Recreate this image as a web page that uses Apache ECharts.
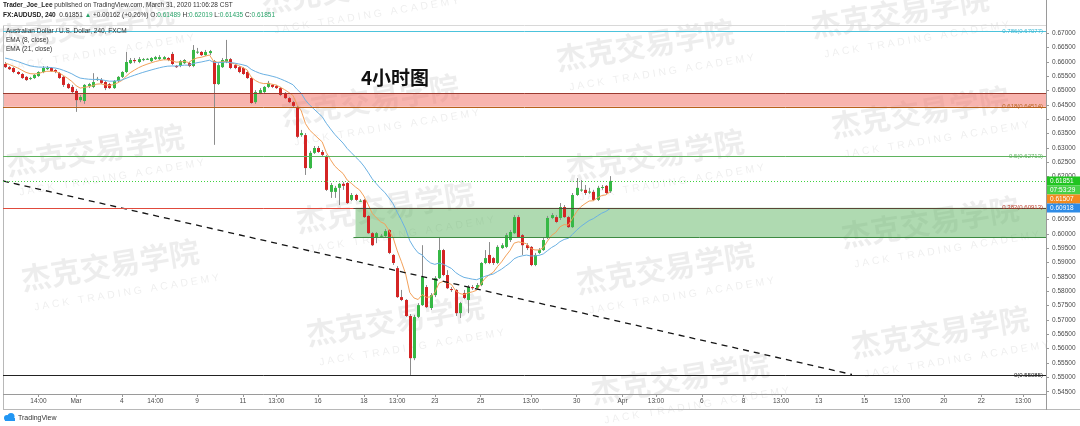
<!DOCTYPE html>
<html>
<head>
<meta charset="utf-8">
<script src="https://cdn.jsdelivr.net/npm/echarts@6.0.0/dist/echarts.min.js"></script>
<style>
html,body{margin:0;padding:0;background:#ffffff;overflow:hidden;}
#chart{width:1080px;height:426px;}
</style>
</head>
<body>
<div id="chart"></div>
<script>
// ---------------- data ----------------
const barOpen = [
.6593,.6582,.6579,.6565,.6558,.6548,.6541,.6544,.6551,.6565,
.6575,.6579,.6572,.6561,.6548,.6523,.6513,.6499,.6467,.6464,
.6516,.6513,.6537,.6537,.6530,.6523,.6509,.6534,.6548,.6565,
.6596,.6607,.6600,.6607,.6610,.6603,.6610,.6610,.6610,.6614,
.6628,.6586,.6586,.6596,.6596,.6586,.6635,.6635,.6624,.6631,
.6603,.6523,.6582,.6600,.6610,.6589,.6582,.6579,.6565,.6544,
.6460,.6492,.6495,.6513,.6520,.6516,.6509,.6492,.6474,.6460,
.6440,.6345,.6345,.6230,.6283,.6300,.6286,.6269,.6147,.6147,
.6161,.6175,.6178,.6119,.6136,.6115,.6119,.6063,.6003,.5989,
.5993,.5993,.6014,.5927,.5881,.5780,.5770,.5714,.5567,.5711,
.5752,.5815,.5742,.5787,.5846,.5944,.5857,.5808,.5805,.5724,
.5794,.5770,.5815,.5811,.5822,.5899,.5927,.5916,.5899,.5951,
.5955,.5979,.6003,.6059,.5996,.5961,.5955,.5892,.5934,.5944,
.5986,.6056,.6059,.6056,.6094,.6059,.6024,.6136,.6154,.6154,
.6147,.6147,.6119,.6161,.6168,.61489];
const barClose = [
.6582,.6575,.6565,.6558,.6544,.6537,.6544,.6555,.6565,.6579,
.6579,.6568,.6565,.6544,.6520,.6509,.6495,.6467,.6478,.6520,
.6523,.6530,.6541,.6527,.6509,.6509,.6534,.6548,.6565,.6600,
.6607,.6603,.6610,.6610,.6611,.6614,.6617,.6617,.6617,.6607,
.6593,.6582,.6603,.6607,.6586,.6642,.6636,.6624,.6635,.6638,
.6523,.6589,.6607,.6610,.6579,.6579,.6565,.6558,.6544,.6457,
.6495,.6502,.6513,.6527,.6513,.6509,.6485,.6474,.6460,.6447,
.6339,.6352,.6230,.6283,.6300,.6286,.6276,.6154,.6171,.6161,
.6175,.6168,.6108,.6136,.6119,.6116,.6059,.6003,.5961,.6003,
.5994,.6010,.5934,.5899,.5780,.5770,.5714,.5567,.5711,.5752,
.5850,.5745,.5787,.5846,.5944,.5857,.5811,.5805,.5724,.5759,
.5777,.5815,.5811,.5822,.5899,.5916,.5899,.5899,.5955,.5961,
.5996,.6007,.6059,.5989,.5961,.5951,.5892,.5927,.5944,.5979,
.6056,.6066,.6042,.6094,.6059,.6024,.6136,.6161,.6155,.6143,
.6148,.6119,.6161,.6164,.6143,.61851];
const barHigh = [
.6600,.6586,.6582,.6568,.6561,.6551,.6548,.6558,.6568,.6586,
.6586,.6582,.6575,.6565,.6551,.6527,.6520,.6506,.6485,.6523,
.6527,.6561,.6548,.6544,.6534,.6527,.6537,.6551,.6568,.6635,
.6614,.6614,.6617,.6614,.6614,.6617,.6621,.6624,.6621,.6617,
.6635,.6589,.6607,.6610,.6600,.6659,.6649,.6638,.6642,.6642,
.6607,.6596,.6614,.6677,.6614,.6593,.6586,.6582,.6568,.6548,
.6502,.6509,.6516,.6534,.6523,.6520,.6513,.6495,.6478,.6464,
.6447,.6363,.6352,.6290,.6307,.6307,.6293,.6276,.6178,.6168,
.6178,.6181,.6181,.6143,.6140,.6122,.6122,.6066,.6007,.6007,
.6000,.6017,.6017,.5930,.5888,.5805,.5773,.5721,.5718,.5759,
.5961,.5822,.5794,.5853,.5986,.5948,.5874,.5815,.5808,.5763,
.5805,.5822,.5822,.5829,.5902,.5944,.5972,.5920,.5961,.5968,
.6003,.6014,.6066,.6066,.6000,.5968,.5958,.5934,.5951,.5986,
.6063,.6073,.6066,.6108,.6101,.6063,.6143,.6195,.6188,.6171,
.6161,.6154,.6168,.6171,.6171,.62019];
const barLow = [
.6579,.6572,.6561,.6555,.6541,.6534,.6537,.6541,.6548,.6561,
.6572,.6565,.6561,.6541,.6513,.6506,.6492,.6426,.6460,.6454,
.6509,.6509,.6534,.6523,.6502,.6506,.6506,.6530,.6544,.6561,
.6593,.6596,.6596,.6603,.6607,.6600,.6607,.6607,.6607,.6603,
.6589,.6579,.6582,.6593,.6582,.6582,.6628,.6621,.6621,.6624,
.6311,.6520,.6579,.6596,.6575,.6575,.6561,.6555,.6541,.6454,
.6454,.6488,.6492,.6509,.6509,.6506,.6481,.6471,.6457,.6443,
.6335,.6339,.6206,.6227,.6279,.6283,.6269,.6150,.6126,.6126,
.6101,.6154,.6105,.6115,.6115,.6112,.6056,.6000,.5958,.5968,
.5989,.5989,.5930,.5892,.5777,.5766,.5711,.55085,.5560,.5707,
.5749,.5742,.5735,.5780,.5843,.5853,.5808,.5798,.5714,.5707,
.5773,.5724,.5805,.5805,.5818,.5895,.5895,.5892,.5895,.5948,
.5951,.5972,.6000,.5986,.5927,.5944,.5888,.5888,.5930,.5941,
.5982,.6052,.6038,.6049,.6056,.6021,.6021,.6133,.6147,.6136,
.6140,.6115,.6115,.6154,.6140,.61435];
const slotCount = 250;
const timeLabels = ['14:00','Mar','4','14:00','9','11','13:00','16','18','13:00','23','25','13:00','30','Apr','13:00','6','8','13:00','13','15','13:00','20','22','13:00'];
const timeLabelBars = [8,17,28,36,46,57,65,75,86,94,103,114,126,137,148,156,167,177,186,195,206,215,225,234,244];
const priceTicks = [0.545,0.55,0.555,0.56,0.565,0.57,0.575,0.58,0.585,0.59,0.595,0.6,0.605,0.61,0.615,0.62,0.625,0.63,0.635,0.64,0.645,0.65,0.655,0.66,0.665,0.67];
const fibValues = [0.55085,0.60913,0.62713,0.6444,0.67077];
const fibTexts = ['0(0.55085)','0.382(0.60913)','0.5(0.62713)','0.618(0.64514)','0.786(0.67077)'];
const redZone = [0.6492,0.6444];
const greenZone = [0.6092,0.5990];
const greenZoneStartBar = 84;
const trendLine = [[-0.5,0.6185],[203,0.5510]];
const lastPrice = 0.61851;
const emaSeeds = [0.6600,0.6617];
const axisBoxes = ['0.61851','07:53:29','0.61507','0.60918'];

// ---------------- chart ----------------
const FONT = "'Liberation Sans', Arial, sans-serif";
const CJK = "'Noto Sans CJK SC', sans-serif";
const chart = echarts.init(document.getElementById('chart'), null, {renderer:'canvas', width:1080, height:426});

function ema(src, n, seed){ const k = 2/(n+1); let e = seed; return src.map(v => (e = v*k + e*(1-k))); }
const ema8 = ema(barClose, 8, emaSeeds[0]);
const ema21 = ema(barClose, 21, emaSeeds[1]);
const candleData = barOpen.map((o,i) => [i, o, barClose[i], barLow[i], barHigh[i]]);

function renderCandle(params, api){
  const i = api.value(0);
  const o = api.coord([i, api.value(1)]);
  const c = api.coord([i, api.value(2)]);
  const l = api.coord([i, api.value(3)]);
  const h = api.coord([i, api.value(4)]);
  const up = api.value(2) >= api.value(1);
  const cx = Math.round(o[0]) + 0.5;
  const top = Math.min(o[1], c[1]);
  const hgt = Math.max(1, Math.abs(o[1] - c[1]));
  return {type:'group', children:[
    {type:'line', shape:{x1:cx, y1:h[1], x2:cx, y2:l[1]}, style:{stroke:'#8c8c8c', lineWidth:1}},
    {type:'rect', shape:{x:cx - 1.5, y:top, width:3, height:hgt}, style:{fill: up ? '#36b845' : '#d42424'}}
  ]};
}

const option = {
  animation:false,
  backgroundColor:'#ffffff',
  grid:{left:3, right:34, top:25, bottom:32, containLabel:false},
  xAxis:{
    type:'value', min:-0.5, max:slotCount-0.5,
    splitLine:{show:false},
    axisLine:{show:false, onZero:false},
    axisTick:{show:true, customValues:timeLabelBars, length:3, lineStyle:{color:'#9a9a9a'}},
    axisLabel:{customValues:timeLabelBars, formatter:v => timeLabels[timeLabelBars.indexOf(v)], fontSize:6.5, color:'#4a4a4a', margin:4, fontFamily:FONT}
  },
  yAxis:{
    type:'value', position:'right', min:0.5442, max:0.6729,
    splitLine:{show:false},
    axisLine:{show:false, onZero:false},
    axisTick:{show:true, customValues:priceTicks, length:3, lineStyle:{color:'#9a9a9a'}},
    axisLabel:{customValues:priceTicks, formatter:v => v.toFixed(5), fontSize:6.5, color:'#4a4a4a', margin:6, fontFamily:FONT}
  },
  series:[
    {type:'line', data:[[0,0.6]], symbol:'none', lineStyle:{opacity:0}, silent:true, z:1,
      markArea:{silent:true, data:[
        [{yAxis:redZone[0], itemStyle:{color:'rgba(243,118,108,0.55)'}}, {yAxis:redZone[1]}],
        [{coord:[greenZoneStartBar, greenZone[0]], itemStyle:{color:'rgba(96,182,100,0.5)'}}, {coord:[slotCount-0.5, greenZone[1]]}]
      ]}
    },
    {type:'custom', renderItem:renderCandle, data:candleData, encode:{x:0, y:[1,2,3,4]}, z:3},
    {type:'line', data:ema8.map((v,i)=>[i,v]), symbol:'none', showSymbol:false, lineStyle:{color:'#f3a15a', width:1}, z:4, silent:true},
    {type:'line', data:ema21.map((v,i)=>[i,v]), symbol:'none', showSymbol:false, lineStyle:{color:'#6bb1e3', width:1}, z:4, silent:true},
    {type:'line', data:trendLine, symbol:'none', lineStyle:{color:'#141414', width:1.3, type:[6,5]}, z:5, silent:true}
  ]
};
chart.setOption(option);

// ---------------- level lines, texts and decorations ----------------
const P = (x, y) => chart.convertToPixel({gridIndex:0}, [x, y]);
const g = [];
const gridL = 3, gridR = 1046;
function hline(v, color, dash, fromBar){
  const y = Math.round(P(0, v)[1]) + 0.5;
  const x1 = fromBar == null ? gridL : P(fromBar, v)[0];
  g.push({type:'line', shape:{x1:x1, y1:y, x2:gridR, y2:y}, style:{stroke:color, lineWidth:1, lineDash:dash || null}, z:6, silent:true});
}
hline(fibValues[4], '#4cc3dc');
hline(redZone[0], '#9c3b30');
hline(fibValues[3], '#b8621c');
hline(fibValues[2], '#5fb35f');
hline(lastPrice, '#3fd23f', [1,2]);
hline(fibValues[1], '#e04a3c');
hline(fibValues[0], '#222222');
hline(greenZone[0], '#5b4636', null, greenZoneStartBar - 0.5);
hline(greenZone[1], '#3e8a42', null, greenZoneStartBar - 0.5);

g.push({type:'line', shape:{x1:3.5, y1:25, x2:3.5, y2:410}, style:{stroke:'#b8b8b8', lineWidth:1}, z:2});
g.push({type:'line', shape:{x1:3, y1:25.5, x2:1046, y2:25.5}, style:{stroke:'#d8d8d8', lineWidth:1}, z:2});
g.push({type:'line', shape:{x1:3, y1:394.5, x2:1046, y2:394.5}, style:{stroke:'#9a9a9a', lineWidth:1}, z:2});
g.push({type:'line', shape:{x1:3, y1:409.5, x2:1080, y2:409.5}, style:{stroke:'#b8b8b8', lineWidth:1}, z:2});
g.push({type:'line', shape:{x1:1046.5, y1:0, x2:1046.5, y2:410}, style:{stroke:'#9a9a9a', lineWidth:1}, z:2});

g.push({type:'text', x:3, y:5, z:20, style:{text:'{b|Trader_Joe_Lee} published on TradingView.com, March 31, 2020 11:06:28 CST', fontSize:6.5, fontFamily:FONT, fill:'#333', verticalAlign:'middle', rich:{b:{fontSize:6.5, fontWeight:'bold', fontFamily:FONT, fill:'#222'}}}});
g.push({type:'text', x:3, y:15, z:20, style:{text:'{b|FX:AUDUSD, 240}  0.61851 {g|▲} +0.00162 (+0.26%) O:{g|0.61489} H:{g|0.62019} L:{g|0.61435} C:{g|0.61851}', fontSize:6.5, fontFamily:FONT, fill:'#333', verticalAlign:'middle', rich:{b:{fontSize:6.5, fontWeight:'bold', fontFamily:FONT, fill:'#222'}, g:{fontSize:6.5, fontFamily:FONT, fill:'#29a36a'}}}});
g.push({type:'text', x:6, y:31, z:20, style:{text:'Australian Dollar / U.S. Dollar, 240, FXCM', fontSize:6.5, fontFamily:FONT, fill:'#333', verticalAlign:'middle'}});
g.push({type:'text', x:6, y:40.5, z:20, style:{text:'EMA (8, close)', fontSize:6.5, fontFamily:FONT, fill:'#333', verticalAlign:'middle'}});
g.push({type:'text', x:6, y:49.5, z:20, style:{text:'EMA (21, close)', fontSize:6.5, fontFamily:FONT, fill:'#333', verticalAlign:'middle'}});
g.push({type:'text', x:395, y:78, z:20, style:{text:'4小时图', fontSize:19, fontWeight:'bold', fontFamily:CJK, fill:'#111', align:'center', verticalAlign:'middle'}});

const fibColors = ['#222222','#c0402f','#5fb35f','#b8621c','#3fb8d4'];
fibValues.forEach((v, k) => {
  const y = P(0, v)[1];
  g.push({type:'text', x:1043, y:y, z:21, style:{text:fibTexts[k], fontSize:6, fontFamily:FONT, fill:fibColors[k], align:'right', verticalAlign:'middle'}});
});

const yLast = P(0, lastPrice)[1];
const boxColors = ['#1fc41f','#47d147','#f28a1e','#2e8be6'];
const boxY = [yLast, yLast + 9, yLast + 18, yLast + 27];
axisBoxes.forEach((t, k) => {
  g.push({type:'rect', shape:{x:1047, y:boxY[k]-4.5, width:33, height:9}, style:{fill:boxColors[k]}, z:22});
  g.push({type:'text', x:1050, y:boxY[k], z:23, style:{text:t, fontSize:6.5, fontFamily:FONT, fill:'#ffffff', verticalAlign:'middle'}});
});

const wmSpots = [[85,25],[95,150],[110,265],[350,-12],[370,100],[385,207],[395,320],[645,45],[655,155],[665,268],[680,378],[900,12],[920,112],[930,222],[940,332]];
wmSpots.forEach(p => {
  g.push({type:'group', x:p[0], y:p[1], rotation:0.16, silent:true, z:30, children:[
    {type:'text', style:{text:'杰克交易学院', fontSize:30, fontWeight:'bold', fontFamily:CJK, fill:'rgba(0,0,0,0.07)', align:'center', verticalAlign:'middle'}},
    {type:'text', x:12, y:30, style:{text:'J A C K   T R A D I N G   A C A D E M Y', fontSize:10.5, fontFamily:FONT, fill:'rgba(0,0,0,0.07)', align:'center', verticalAlign:'middle'}}
  ]});
});

g.push({type:'circle', shape:{cx:7, cy:418, r:3}, style:{fill:'#2196f3'}, z:20});
g.push({type:'circle', shape:{cx:11, cy:416.5, r:3.5}, style:{fill:'#2196f3'}, z:20});
g.push({type:'rect', shape:{x:5, y:418, width:10, height:3}, style:{fill:'#2196f3'}, z:20});
g.push({type:'text', x:18, y:418, z:20, style:{text:'TradingView', fontSize:7, fontFamily:FONT, fill:'#333', verticalAlign:'middle'}});

chart.setOption({graphic:{elements:g}});
</script>
</body>
</html>
